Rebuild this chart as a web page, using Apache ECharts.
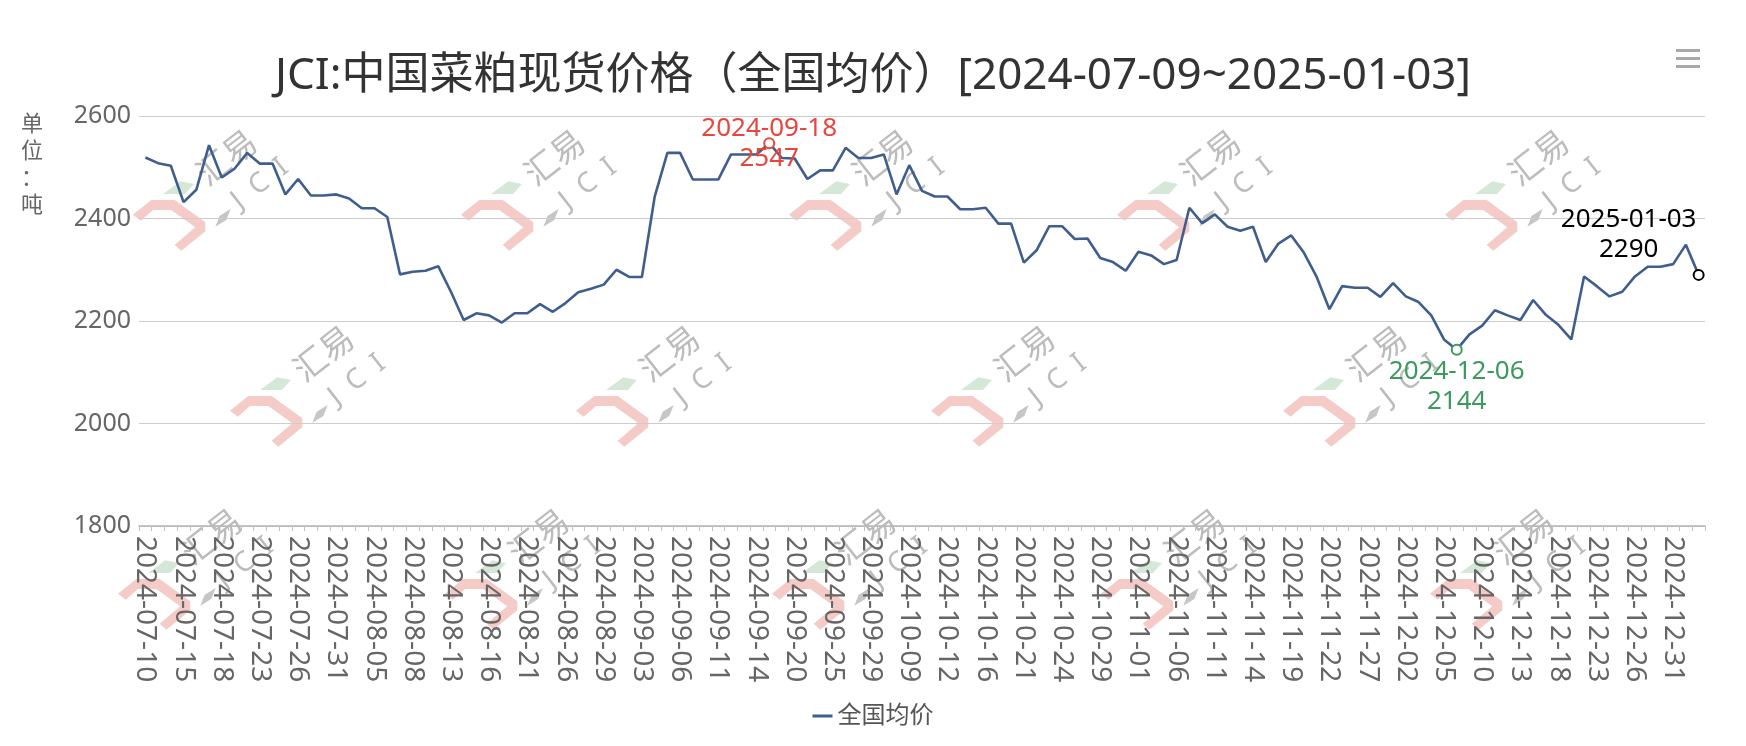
<!DOCTYPE html>
<html>
<head>
<meta charset="utf-8">
<script src="https://cdn.jsdelivr.net/npm/echarts@6/dist/echarts.min.js"></script>
<style>
html,body{margin:0;padding:0;background:#fff;}
#chart{width:1746px;height:746px;}
</style>
</head>
<body>
<div id="chart"></div>
<script>
// ---------- DATA ----------
const titleText = 'JCI:中国菜粕现货价格（全国均价）[2024-07-09~2025-01-03]';
const seriesName = '全国均价';
const unitName = '单\n位\n：\n吨';
const categories = [
'2024-07-10','2024-07-11','2024-07-12','2024-07-15','2024-07-16','2024-07-17','2024-07-18','2024-07-19','2024-07-22','2024-07-23',
'2024-07-24','2024-07-25','2024-07-26','2024-07-29','2024-07-30','2024-07-31','2024-08-01','2024-08-02','2024-08-05','2024-08-06',
'2024-08-07','2024-08-08','2024-08-09','2024-08-12','2024-08-13','2024-08-14','2024-08-15','2024-08-16','2024-08-19','2024-08-20',
'2024-08-21','2024-08-22','2024-08-23','2024-08-26','2024-08-27','2024-08-28','2024-08-29','2024-08-30','2024-09-02','2024-09-03',
'2024-09-04','2024-09-05','2024-09-06','2024-09-09','2024-09-10','2024-09-11','2024-09-12','2024-09-13','2024-09-14','2024-09-18',
'2024-09-19','2024-09-20','2024-09-23','2024-09-24','2024-09-25','2024-09-26','2024-09-27','2024-09-29','2024-09-30','2024-10-08',
'2024-10-09','2024-10-10','2024-10-11','2024-10-12','2024-10-14','2024-10-15','2024-10-16','2024-10-17','2024-10-18','2024-10-21',
'2024-10-22','2024-10-23','2024-10-24','2024-10-25','2024-10-28','2024-10-29','2024-10-30','2024-10-31','2024-11-01','2024-11-04',
'2024-11-05','2024-11-06','2024-11-07','2024-11-08','2024-11-11','2024-11-12','2024-11-13','2024-11-14','2024-11-15','2024-11-18',
'2024-11-19','2024-11-20','2024-11-21','2024-11-22','2024-11-25','2024-11-26','2024-11-27','2024-11-28','2024-11-29','2024-12-02',
'2024-12-03','2024-12-04','2024-12-05','2024-12-06','2024-12-09','2024-12-10','2024-12-11','2024-12-12','2024-12-13','2024-12-16',
'2024-12-17','2024-12-18','2024-12-19','2024-12-20','2024-12-23','2024-12-24','2024-12-25','2024-12-26','2024-12-27','2024-12-30',
'2024-12-31','2025-01-02','2025-01-03'
];
const values = [
2519,2508,2503,2432,2456,2543,2480,2497,2528,2507,
2507,2447,2477,2445,2445,2447,2439,2420,2420,2403,
2291,2296,2298,2307,2257,2202,2215,2211,2197,2215,
2215,2233,2218,2235,2256,2263,2271,2300,2286,2286,
2442,2528,2528,2476,2476,2476,2525,2525,2525,2547,
2518,2517,2477,2494,2494,2538,2518,2518,2525,2447,
2504,2454,2443,2443,2418,2418,2421,2390,2390,2314,
2338,2385,2385,2360,2361,2323,2315,2298,2335,2328,
2311,2319,2421,2391,2408,2384,2376,2384,2315,2351,
2367,2333,2286,2223,2268,2265,2265,2247,2274,2248,
2237,2211,2164,2144,2174,2191,2221,2211,2202,2241,
2212,2192,2164,2287,2268,2248,2257,2287,2306,2306,
2311,2349,2290
];
const yMin = 1800, yMax = 2600, yInterval = 200;

// ---------- STYLE / LAYOUT ----------
const FONT = '"Noto Sans", "Noto Sans CJK SC", sans-serif';
const lineColor = '#3f5e8e';
const maxColor = '#e8453c';
const minColor = '#3c9a5f';
const lastColor = '#000000';

const maxIdx = values.indexOf(Math.max(...values));
const minIdx = values.indexOf(Math.min(...values));
const lastIdx = values.length - 1;

// watermark logo (relative shapes) and placements
const wmOffsets = [
  [-97,-196],[231,-196],[559,-196],[887,-196],[1215,-196],
  [0,0],[346,0],[701,0],[1053,0],
  [-112,183],[215,183],[542,183],[871,183],[1200,183]
];
const WM_X = 230, WM_Y = 396;
function logo(dx, dy){
  const ang = 38 * Math.PI / 180;
  return {
    type:'group', x: WM_X + dx, y: WM_Y + dy, z: -10, silent: true,
    children:[
      {type:'polygon', z:-10, shape:{points:[[0,14.7],[18.3,0],[41.7,0],[72.3,22.3],[72.3,31.3],[48.3,50.7],[41.7,44.7],[62.3,27.3],[38.3,10],[20,10],[7.7,20.7]]}, style:{fill:'#f4cbc6'}},
      {type:'polygon', z:-10, shape:{points:[[30,-6],[47.3,-18.7],[61,-16],[52,-6]]}, style:{fill:'#d5e8d7'}},
      {type:'polygon', z:-10, shape:{points:[[82.3,26.7],[86.7,15.7],[97.7,9],[93.3,20]]}, style:{fill:'#c6c6c6'}},
      {type:'text', z:-10, x:93, y:-43, rotation: ang, style:{text:'汇易', fontSize:33, fontFamily:'"Noto Sans CJK SC", sans-serif', fill:'#bcbcbc', align:'center', verticalAlign:'middle', textAlign:'center', textVerticalAlign:'middle'}},
      {type:'text', z:-10, x:127, y:-16, rotation: ang, style:{text:'J  C  I', fontSize:28, fontFamily:'"Noto Sans", sans-serif', fill:'#bcbcbc', align:'center', verticalAlign:'middle', textAlign:'center', textVerticalAlign:'middle'}}
    ]
  };
}

const chart = echarts.init(document.getElementById('chart'), null, {renderer:'canvas'});
const graphics = wmOffsets.map(o => logo(o[0], o[1]));
graphics.push(
  {type:'text', left: 21, top: 111, style:{text: unitName, fontSize: 22, lineHeight: 27, fontFamily: FONT, fill:'#666', textAlign:'center'}},
  {type:'rect', right: 46, top: 49, shape:{width:24, height:3}, style:{fill:'#a8a8a8'}},
  {type:'rect', right: 46, top: 57, shape:{width:24, height:3}, style:{fill:'#a8a8a8'}},
  {type:'rect', right: 46, top: 65, shape:{width:24, height:3}, style:{fill:'#a8a8a8'}}
);

chart.setOption({
  animation: false,
  backgroundColor: '#fff',
  textStyle: {fontFamily: FONT},
  title: {
    text: titleText, left: 'center', top: 49,
    textStyle: {fontSize: 44, fontWeight: 'normal', color: '#333', fontFamily: FONT}
  },
  legend: {
    bottom: 13, left: 'center',
    icon: 'rect', itemWidth: 20, itemHeight: 3, itemGap: 10,
    textStyle: {fontSize: 24, color: '#555', fontFamily: FONT},
    data: [seriesName]
  },
  graphic: graphics,
  grid: {left: 139, right: 41, top: 116, bottom: 220, containLabel: false},
  xAxis: {
    type: 'category', data: categories, boundaryGap: true,
    axisLine: {lineStyle: {color: '#b5b5b5', width: 1.5}},
    axisTick: {show: true, interval: 0, length: 5, lineStyle: {color: '#c0c0c0'}},
    axisLabel: {rotate: -90, interval: 2, fontSize: 28, color: '#666', margin: 10, fontFamily: FONT}
  },
  yAxis: {
    type: 'value', min: yMin, max: yMax, interval: yInterval,
    axisLine: {show: false}, axisTick: {show: false},
    axisLabel: {fontSize: 25, color: '#666', margin: 8, fontFamily: FONT, formatter: v => String(v)},
    splitLine: {lineStyle: {color: '#cccccc', width: 1.2}}
  },
  series: [{
    name: seriesName, type: 'line', data: values,
    showSymbol: false, symbol: 'none', smooth: false,
    lineStyle: {color: lineColor, width: 2.6},
    itemStyle: {color: lineColor},
    markPoint: {
      symbol: 'emptyCircle', symbolSize: 10,
      label: {formatter: '{b}\n{c}', fontSize: 26, lineHeight: 30, fontFamily: FONT},
      data: [
        {name: categories[maxIdx], coord: [categories[maxIdx], values[maxIdx]], value: values[maxIdx],
         itemStyle: {color: maxColor, borderColor: maxColor, borderWidth: 2},
         label: {position: 'inside', color: maxColor}},
        {name: categories[minIdx], coord: [categories[minIdx], values[minIdx]], value: values[minIdx],
         itemStyle: {color: minColor, borderColor: minColor, borderWidth: 2},
         label: {position: 'bottom', distance: 1, color: minColor}},
        {name: categories[lastIdx], coord: [categories[lastIdx], values[lastIdx]], value: values[lastIdx],
         itemStyle: {color: lastColor, borderColor: lastColor, borderWidth: 3},
         label: {position: 'top', distance: 4, offset: [-70, 0], color: lastColor}}
      ]
    }
  }]
});
</script>
</body>
</html>
